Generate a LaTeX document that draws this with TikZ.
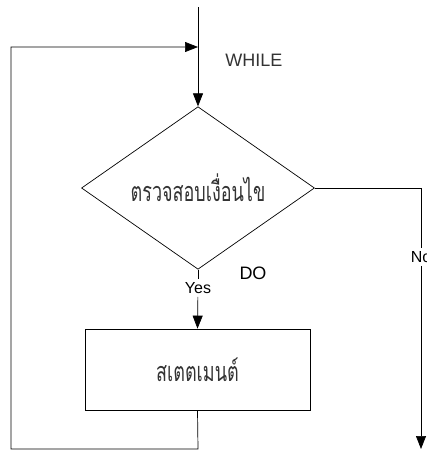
\documentclass[tikz,border=0pt]{standalone}
\usepackage{fontspec}
\setmainfont{Liberation Sans}
\newfontfamily\thaifont[Script=Thai]{Loma}
\usetikzlibrary{shapes.geometric,arrows.meta}
\newcommand{\tall}[1]{\scalebox{1}[1.5]{#1}}
\tikzset{
  flow/.style={line width=0.7pt},
  arr/.style={flow,-{Triangle[length=13pt,width=10pt]}},
  decision/.style={draw,flow,diamond,minimum width=233pt,minimum height=120pt,inner sep=0pt},
  stmt/.style={draw,flow,rectangle,minimum width=225pt,minimum height=81pt},
  thai/.style={font=\thaifont\fontsize{18}{20}\selectfont,text=black!80},
  lbl/.style={font=\fontsize{16}{18}\selectfont,inner sep=3pt}
}
\begin{document}
\begin{tikzpicture}[x=1pt,y=-1pt]
\useasboundingbox (0,0) rectangle (427,450);

\node[decision,thai] (cond) at (198,188) {\tall{ตรวจสอบเงื่อนไข}};
\node[stmt,thai] (body) at (197.5,369.5) {\tall{สเตตเมนต์}};

\coordinate (top) at (198,7);
\coordinate (join) at (198,47);
\coordinate (corner) at (11,47);
\coordinate (back) at (198,449);
\coordinate (turn) at (421,188);
\coordinate (out) at (421,449);

\node[font=\fontsize{18}{20}\selectfont,text=black!80] (while) at (254,60) {WHILE};
\node[font=\fontsize{18}{20}\selectfont] (do) at (253,273) {DO};
\node[lbl] (yes) at (198,288) {Yes};
\node[lbl] (no) at (421,257) {No};

\draw[arr] (top) -- (cond.north);
\draw[flow] (cond.south) -- (yes);
\draw[arr] (yes) -- (body.north);
\draw[arr] (body.south) -- (back) -| (corner) -- (join);
\draw[flow] (cond.east) -- (turn) -- (no);
\draw[arr] (no) -- (out);

\end{tikzpicture}
\end{document}
